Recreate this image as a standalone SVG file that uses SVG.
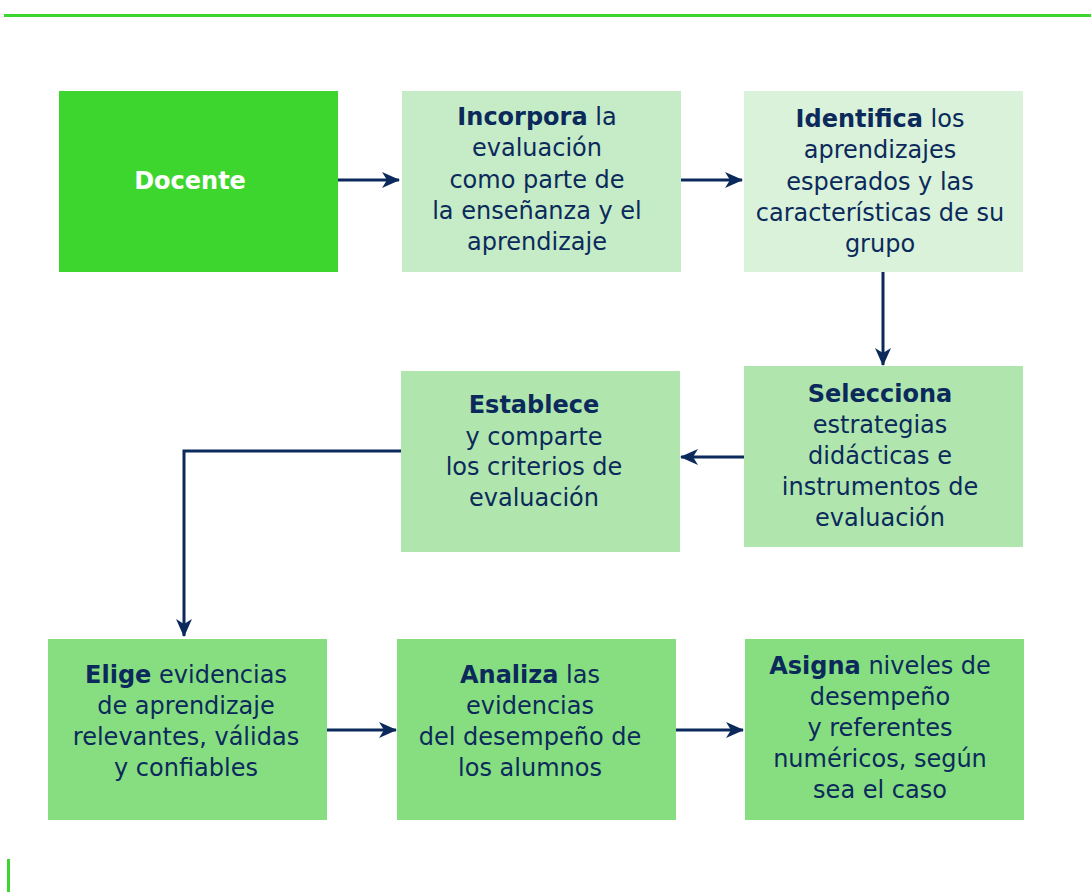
<svg xmlns="http://www.w3.org/2000/svg" width="1091" height="892" viewBox="0 0 1091 892">
<defs>
<marker id="ah" viewBox="0 0 18 16" refX="17" refY="8" markerWidth="18" markerHeight="16" markerUnits="userSpaceOnUse" orient="auto">
<path d="M0,0 L18,8 L0,16 L5,8 Z" fill="#0b2a5b"/>
</marker>
<style>
.t{font-family:"DejaVu Sans",sans-serif;font-size:24px;fill:#0b2a5b;text-anchor:middle}
.b{font-weight:bold}
.c{fill:none;stroke:#0b2a5b;stroke-width:3;marker-end:url(#ah)}
</style>
</defs>
<rect x="0" y="0" width="1091" height="892" fill="#ffffff"/>
<rect x="4" y="14" width="1087" height="3" fill="#3dd62e"/>
<rect x="7" y="859" width="3" height="33" fill="#3dd62e"/>

<g id="docente">
<rect x="59" y="91" width="279" height="181" fill="#3dd62e"/>
<text class="t b" x="190" y="189" style="fill:#ffffff">Docente</text>
</g>
<g id="incorpora">
<rect x="402" y="91" width="279" height="181" fill="#c5ecc6"/>
<text class="t" x="537" y="125"><tspan class="b">Incorpora</tspan> la</text>
<text class="t" x="537" y="156">evaluación</text>
<text class="t" x="537" y="188">como parte de</text>
<text class="t" x="537" y="219">la enseñanza y el</text>
<text class="t" x="537" y="250">aprendizaje</text>
</g>
<g id="identifica">
<rect x="744" y="91" width="279" height="181" fill="#d9f2d9"/>
<text class="t" x="880" y="127"><tspan class="b">Identifica</tspan> los</text>
<text class="t" x="880" y="158">aprendizajes</text>
<text class="t" x="880" y="190">esperados y las</text>
<text class="t" x="880" y="221">características de su</text>
<text class="t" x="880" y="252">grupo</text>
</g>
<g id="selecciona">
<rect x="744" y="366" width="279" height="181" fill="#b0e6ad"/>
<text class="t b" x="880" y="402">Selecciona</text>
<text class="t" x="880" y="433">estrategias</text>
<text class="t" x="880" y="464">didácticas e</text>
<text class="t" x="880" y="495">instrumentos de</text>
<text class="t" x="880" y="526">evaluación</text>
</g>
<g id="establece">
<rect x="401" y="371" width="279" height="181" fill="#b0e6ad"/>
<text class="t b" x="534" y="413">Establece</text>
<text class="t" x="534" y="445">y comparte</text>
<text class="t" x="534" y="475">los criterios de</text>
<text class="t" x="534" y="506">evaluación</text>
</g>
<g id="elige">
<rect x="48" y="639" width="279" height="181" fill="#86de80"/>
<text class="t" x="186" y="683"><tspan class="b">Elige</tspan> evidencias</text>
<text class="t" x="186" y="714">de aprendizaje</text>
<text class="t" x="186" y="745">relevantes, válidas</text>
<text class="t" x="186" y="776">y confiables</text>
</g>
<g id="analiza">
<rect x="397" y="639" width="279" height="181" fill="#86de80"/>
<text class="t" x="530" y="683"><tspan class="b">Analiza</tspan> las</text>
<text class="t" x="530" y="714">evidencias</text>
<text class="t" x="530" y="745">del desempeño de</text>
<text class="t" x="530" y="776">los alumnos</text>
</g>
<g id="asigna">
<rect x="745" y="639" width="279" height="181" fill="#86de80"/>
<text class="t" x="880" y="674"><tspan class="b">Asigna</tspan> niveles de</text>
<text class="t" x="880" y="705">desempeño</text>
<text class="t" x="880" y="736">y referentes</text>
<text class="t" x="880" y="767">numéricos, según</text>
<text class="t" x="880" y="798">sea el caso</text>
</g>

<g id="connectors">
<line class="c" x1="338" y1="180" x2="399" y2="180"/>
<line class="c" x1="681" y1="180" x2="742" y2="180"/>
<line class="c" x1="883" y1="272" x2="883" y2="365"/>
<line class="c" x1="744" y1="457" x2="681" y2="457"/>
<polyline class="c" points="401,451 184,451 184,636"/>
<line class="c" x1="327" y1="730" x2="396" y2="730"/>
<line class="c" x1="676" y1="730" x2="743" y2="730"/>
</g>
</svg>
